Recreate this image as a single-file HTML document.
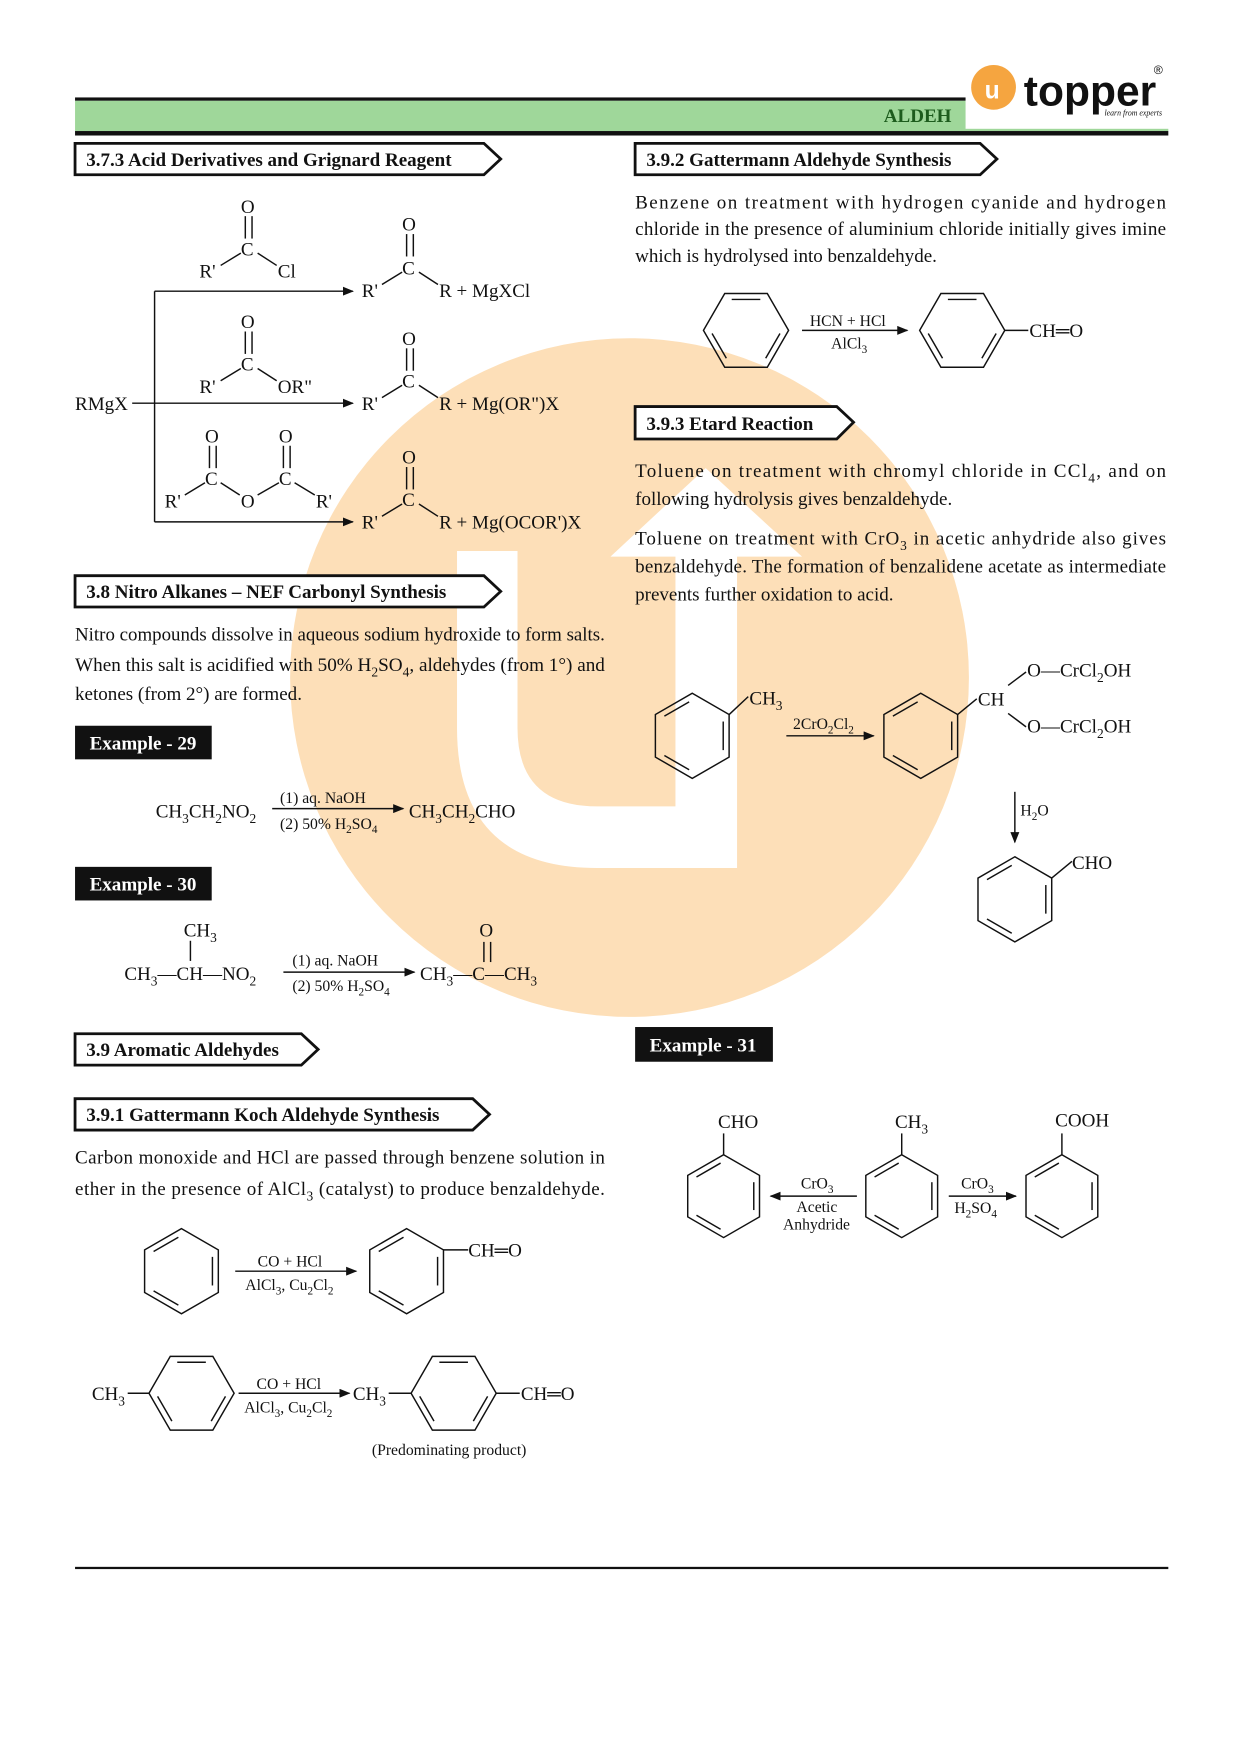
<!DOCTYPE html>
<html><head><meta charset="utf-8"><style>
html,body{margin:0;padding:0;background:#fff;}
svg{display:block;}
text{font-family:"Liberation Serif",serif;fill:#111;}
.b{font-weight:bold;}
</style></head><body>
<svg id="s" width="1240" height="1755" viewBox="0 0 1107 1567" preserveAspectRatio="none" xmlns="http://www.w3.org/2000/svg">
<defs><marker id="ar" markerWidth="10" markerHeight="8" refX="9" refY="4" orient="auto" markerUnits="userSpaceOnUse"><path d="M0,0 L10,4 L0,8 Z" fill="#111"/></marker></defs>
<circle cx="562" cy="605" r="303" fill="#fddfb8"/>
<path d="M408,492 V650 Q408,775 533,775 H658 V495 H603 V720 H533 Q462,720 462,650 V492 Z" fill="#fff"/>
<path d="M545,497 L630,418 L716,497 Z" fill="#fff"/>
<rect x="67" y="87" width="800" height="3" fill="#111"/>
<rect x="67" y="90" width="976" height="27" fill="#9fd79a"/>
<rect x="67" y="117" width="976" height="4" fill="#111"/>
<rect x="862" y="55" width="185" height="60" fill="#fff"/>
<text x="789" y="109" class="b" font-size="17" style="fill:#1d5c1d">ALDEH</text>
<circle cx="887" cy="78" r="20" fill="#f5a540"/>
<text x="879" y="88" font-size="22" font-weight="bold" style="fill:#fff;font-family:'Liberation Sans',sans-serif">u</text>
<text x="914" y="94" font-size="38" font-weight="bold" style="font-family:'Liberation Sans',sans-serif">topper</text>
<text x="1030" y="66" font-size="11" style="font-family:'Liberation Sans',sans-serif">®</text>
<text x="986" y="103" font-size="7" font-style="italic">learn from experts</text>
<rect x="67" y="1399" width="976" height="2" fill="#111"/>
<g fill="#fff" stroke="#111" stroke-width="2.5">
<polygon points="67,128 432,128 447,142 432,156 67,156"/>
<polygon points="567,128 875,128 890,142 875,156 567,156"/>
<polygon points="567,363 747,363 762,377 747,392 567,392"/>
<polygon points="67,514 432,514 447,528 432,542 67,542"/>
<polygon points="67,923 269,923 284,937 269,951 67,951"/>
<polygon points="67,981 422,981 437,995 422,1009 67,1009"/>
</g>
<g class="b" font-size="17">
<text x="77" y="148" class="b">3.7.3 Acid Derivatives and Grignard Reagent</text>
<text x="577" y="148" class="b">3.9.2 Gattermann Aldehyde Synthesis</text>
<text x="577" y="384" class="b">3.9.3 Etard Reaction</text>
<text x="77" y="534" class="b">3.8 Nitro Alkanes – NEF Carbonyl Synthesis</text>
<text x="77" y="943" class="b">3.9 Aromatic Aldehydes</text>
<text x="77" y="1001" class="b">3.9.1 Gattermann Koch Aldehyde Synthesis</text>
</g>
<rect x="67" y="648" width="122" height="30" fill="#111"/>
<rect x="67" y="774" width="122" height="30" fill="#111"/>
<rect x="567" y="917" width="123" height="31" fill="#111"/>
<text x="80" y="669" font-size="17" class="b" style="fill:#fff">Example - 29</text>
<text x="80" y="795" font-size="17" class="b" style="fill:#fff">Example - 30</text>
<text x="580" y="939" font-size="17" class="b" style="fill:#fff">Example - 31</text>
<g font-size="17">
<text x="567" y="186" textLength="474" lengthAdjust="spacing">Benzene on treatment with hydrogen cyanide and hydrogen</text>
<text x="567" y="210" textLength="474" lengthAdjust="spacing">chloride in the presence of aluminium chloride initially gives imine</text>
<text x="567" y="234">which is hydrolysed into benzaldehyde.</text>
<text x="567" y="426" textLength="474" lengthAdjust="spacing">Toluene on treatment with chromyl chloride in CCl<tspan font-size="12" dy="5">4</tspan><tspan dy="-5">, and on</tspan></text>
<text x="567" y="451">following hydrolysis gives benzaldehyde.</text>
<text x="567" y="486" textLength="474" lengthAdjust="spacing">Toluene on treatment with CrO<tspan font-size="12" dy="5">3</tspan><tspan dy="-5"> in acetic anhydride also gives</tspan></text>
<text x="567" y="511" textLength="474" lengthAdjust="spacing">benzaldehyde. The formation of benzalidene acetate as intermediate</text>
<text x="567" y="536">prevents further oxidation to acid.</text>
<text x="67" y="572" textLength="473" lengthAdjust="spacingAndGlyphs">Nitro compounds dissolve in aqueous sodium hydroxide to form salts.</text>
<text x="67" y="599" textLength="473" lengthAdjust="spacingAndGlyphs">When this salt is acidified with 50% H<tspan font-size="12" dy="5">2</tspan><tspan dy="-5">SO</tspan><tspan font-size="12" dy="5">4</tspan><tspan dy="-5">, aldehydes (from 1°) and</tspan></text>
<text x="67" y="625">ketones (from 2°) are formed.</text>
<text x="67" y="1039" textLength="473" lengthAdjust="spacing">Carbon monoxide and HCl are passed through benzene solution in</text>
<text x="67" y="1067" textLength="473" lengthAdjust="spacing">ether in the presence of AlCl<tspan font-size="12" dy="5">3</tspan><tspan dy="-5"> (catalyst) to produce benzaldehyde.</tspan></text>
</g>
<g id="chem" stroke="#111" stroke-width="1.3" fill="none"></g>
<g font-size="17" id="ct">
<text x="215" y="190">O</text><text x="215" y="228">C</text><text x="178" y="248">R'</text><text x="248" y="248">Cl</text>
<text x="359" y="206">O</text><text x="359" y="245">C</text><text x="323" y="265">R'</text><text x="392" y="265">R  + MgXCl</text>
<text x="215" y="293">O</text><text x="215" y="331">C</text><text x="178" y="351">R'</text><text x="248" y="351">OR"</text>
<text x="359" y="308">O</text><text x="359" y="346">C</text><text x="323" y="366">R'</text><text x="392" y="366">R  + Mg(OR")X</text>
<text x="67" y="366">RMgX</text>
<text x="183" y="395">O</text><text x="249" y="395">O</text><text x="183" y="433">C</text><text x="249" y="433">C</text><text x="215" y="453">O</text><text x="147" y="453">R'</text><text x="282" y="453">R'</text>
<text x="359" y="414">O</text><text x="359" y="452">C</text><text x="323" y="472">R'</text><text x="392" y="472">R  + Mg(OCOR')X</text>
<text x="139" y="730">CH<tspan font-size="12" dy="5">3</tspan><tspan dy="-5">CH</tspan><tspan font-size="12" dy="5">2</tspan><tspan dy="-5">NO</tspan><tspan font-size="12" dy="5">2</tspan></text>
<text x="250" y="717" font-size="14">(1) aq. NaOH</text>
<text x="250" y="740" font-size="14">(2) 50% H<tspan font-size="10" dy="4">2</tspan><tspan dy="-4">SO</tspan><tspan font-size="10" dy="4">4</tspan></text>
<text x="365" y="730">CH<tspan font-size="12" dy="5">3</tspan><tspan dy="-5">CH</tspan><tspan font-size="12" dy="5">2</tspan><tspan dy="-5">CHO</tspan></text>
<text x="164" y="836">CH<tspan font-size="12" dy="5">3</tspan></text>
<text x="111" y="875">CH<tspan font-size="12" dy="5">3</tspan><tspan dy="-5">—CH—NO</tspan><tspan font-size="12" dy="5">2</tspan></text>
<text x="261" y="862" font-size="14">(1) aq. NaOH</text>
<text x="261" y="885" font-size="14">(2) 50% H<tspan font-size="10" dy="4">2</tspan><tspan dy="-4">SO</tspan><tspan font-size="10" dy="4">4</tspan></text>
<text x="428" y="836">O</text>
<text x="375" y="875">CH<tspan font-size="12" dy="5">3</tspan><tspan dy="-5">—C—CH</tspan><tspan font-size="12" dy="5">3</tspan></text>
<text x="723" y="291" font-size="14">HCN + HCl</text>
<text x="742" y="311" font-size="14">AlCl<tspan font-size="10" dy="4">3</tspan></text>
<text x="919" y="301">CH═O</text>
<text x="230" y="1131" font-size="14">CO + HCl</text>
<text x="219" y="1152" font-size="14">AlCl<tspan font-size="10" dy="4">3</tspan><tspan dy="-4">, Cu</tspan><tspan font-size="10" dy="4">2</tspan><tspan dy="-4">Cl</tspan><tspan font-size="10" dy="4">2</tspan></text>
<text x="418" y="1122">CH═O</text>
<text x="82" y="1250">CH<tspan font-size="12" dy="5">3</tspan></text>
<text x="229" y="1240" font-size="14">CO + HCl</text>
<text x="218" y="1261" font-size="14">AlCl<tspan font-size="10" dy="4">3</tspan><tspan dy="-4">, Cu</tspan><tspan font-size="10" dy="4">2</tspan><tspan dy="-4">Cl</tspan><tspan font-size="10" dy="4">2</tspan></text>
<text x="315" y="1250">CH<tspan font-size="12" dy="5">3</tspan></text>
<text x="465" y="1250">CH═O</text>
<text x="332" y="1299" font-size="14">(Predominating product)</text>
<text x="669" y="629">CH<tspan font-size="12" dy="5">3</tspan></text>
<text x="708" y="651" font-size="14">2CrO<tspan font-size="10" dy="4">2</tspan><tspan dy="-4">Cl</tspan><tspan font-size="10" dy="4">2</tspan></text>
<text x="873" y="630">CH</text>
<text x="917" y="604">O—CrCl<tspan font-size="12" dy="5">2</tspan><tspan dy="-5">OH</tspan></text>
<text x="917" y="654">O—CrCl<tspan font-size="12" dy="5">2</tspan><tspan dy="-5">OH</tspan></text>
<text x="911" y="728" font-size="14">H<tspan font-size="10" dy="4">2</tspan><tspan dy="-4">O</tspan></text>
<text x="957" y="776">CHO</text>
<text x="641" y="1007">CHO</text>
<text x="799" y="1007">CH<tspan font-size="12" dy="5">3</tspan></text>
<text x="942" y="1006">COOH</text>
<text x="715" y="1061" font-size="14">CrO<tspan font-size="10" dy="4">3</tspan></text>
<text x="711" y="1082" font-size="14">Acetic</text>
<text x="699" y="1098" font-size="14">Anhydride</text>
<text x="858" y="1061" font-size="14">CrO<tspan font-size="10" dy="4">3</tspan></text>
<text x="852" y="1083" font-size="14">H<tspan font-size="10" dy="4">2</tspan><tspan dy="-4">SO</tspan><tspan font-size="10" dy="4">4</tspan></text>
</g>
</svg>
<script>
var g=document.getElementById('chem'),NS='http://www.w3.org/2000/svg';
function L(x1,y1,x2,y2,arrow){var l=document.createElementNS(NS,'line');l.setAttribute('x1',x1);l.setAttribute('y1',y1);l.setAttribute('x2',x2);l.setAttribute('y2',y2);if(arrow)l.setAttribute('marker-end','url(#ar)');g.appendChild(l);}
function hex(cx,cy,r,pointy,start){var p=[],a0=pointy?-90:0;for(var i=0;i<6;i++){var a=(a0+60*i)*Math.PI/180;p.push([cx+r*Math.cos(a),cy+r*Math.sin(a)]);}
 var pg=document.createElementNS(NS,'polygon');pg.setAttribute('points',p.map(function(q){return q.join(',')}).join(' '));g.appendChild(pg);
 for(var k=start;k<6;k+=2){var A=p[k],B=p[(k+1)%6];var f=0.84,s=0.1;
  var ax=cx+(A[0]-cx)*f,ay=cy+(A[1]-cy)*f,bx=cx+(B[0]-cx)*f,by=cy+(B[1]-cy)*f;
  L(ax+(bx-ax)*s,ay+(by-ay)*s,bx+(ax-bx)*s,by+(ay-by)*s);}
 return p;}
function dbl(x,y1,y2){L(x-3,y1,x-3,y2);L(x+3,y1,x+3,y2);}
dbl(222,193,213);L(215,226,197,237);L(230,226,247,237);
dbl(366,209,229);L(359,243,341,254);L(374,243,391,254);
dbl(222,296,316);L(215,329,197,340);L(230,329,247,340);
dbl(366,311,331);L(359,344,341,355);L(374,344,391,355);
dbl(190,398,418);dbl(256,398,418);L(183,431,165,442);L(197,431,214,442);L(230,442,249,431);L(263,431,281,442);
dbl(366,417,437);L(359,450,341,461);L(374,450,391,461);
L(138,260,138,466);L(138,260,315,260,1);L(118,360,315,360,1);L(138,466,315,466,1);
L(243,722,360,722,1);L(170,840,170,858);L(253,868,370,868,1);dbl(435,841,859);
hex(666,295,38,false,0);L(716,295,810,295,1);var p=hex(859,295,38,false,0);L(897,295,918,295);
hex(162,1135,38,true,1);L(210,1135,318,1135,1);p=hex(363,1135,38,true,1);L(p[1][0],p[1][1],418,1116);
hex(171,1244,38,false,0);L(114,1244,133,1244);L(213,1244,312,1244,1);hex(405,1244,38,false,0);L(347,1244,367,1244);L(443,1244,464,1244);
p=hex(618,657,38,true,1);L(p[1][0],p[1][1],668,622);L(702,657,780,657,1);
p=hex(822,657,38,true,1);L(p[1][0],p[1][1],872,624);L(900,612,916,600);L(900,637,916,649);
L(906,707,906,752,1);p=hex(906,803,38,true,1);L(p[1][0],p[1][1],957,769);
hex(646,1068,37,true,1);L(646,1031,646,1012);
hex(805,1068,37,true,1);L(805,1031,805,1012);
hex(948,1068,37,true,1);L(948,1031,948,1012);
L(765,1068,688,1068,1);L(847,1068,907,1068,1);
</script>
</body></html>
